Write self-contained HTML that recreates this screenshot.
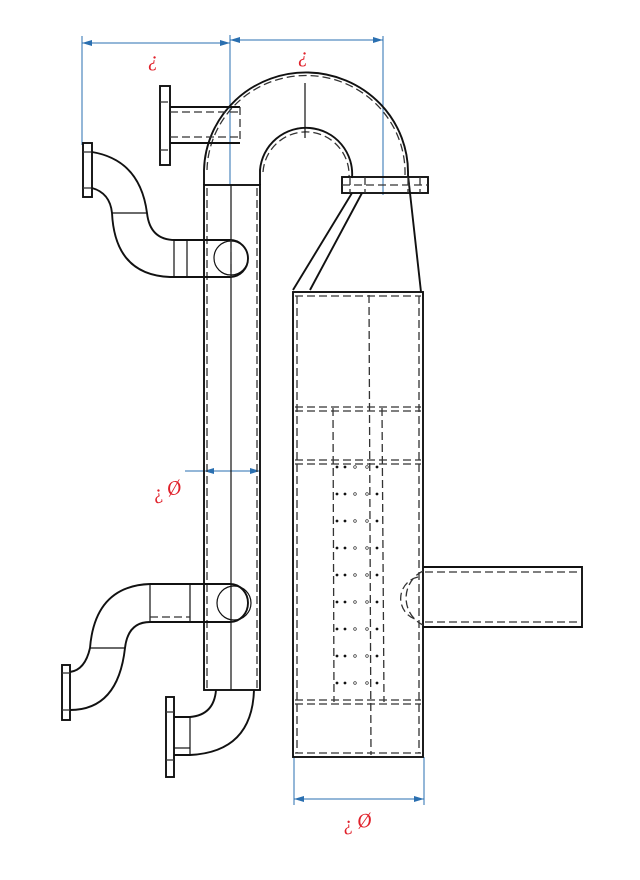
<!DOCTYPE html>
<html><head><meta charset="utf-8"><style>
html,body{margin:0;padding:0;background:#fff;}
svg{display:block;}
.s{fill:none;stroke:#111;stroke-width:1.9;}
.t{fill:none;stroke:#111;stroke-width:1.2;}
.d{fill:none;stroke:#333;stroke-width:1.3;stroke-dasharray:8 4;}
.b{fill:none;stroke:#2a6fb0;stroke-width:1;}
.r{fill:#e0202a;font-family:"Liberation Serif",serif;font-style:italic;font-size:20px;}
</style></head><body>
<svg width="640" height="880" viewBox="0 0 640 880" xmlns="http://www.w3.org/2000/svg">
<defs><marker id="a" markerWidth="10" markerHeight="6" refX="10" refY="3" orient="auto-start-reverse"><path d="M0,0 L10,3 L0,6z" fill="#2a6fb0"/></marker></defs>
<line class="b" x1="82" y1="43" x2="230" y2="43" marker-start="url(#a)" marker-end="url(#a)"/>
<line class="b" x1="230" y1="40" x2="383" y2="40" marker-start="url(#a)" marker-end="url(#a)"/>
<line class="b" x1="82" y1="36" x2="82" y2="145"/>
<line class="b" x1="230" y1="35" x2="230" y2="185"/>
<line class="b" x1="383" y1="36" x2="383" y2="195"/>
<text class="r" x="148" y="66">¿</text>
<text class="r" x="298" y="62">¿</text>
<line class="b" x1="185" y1="471" x2="260" y2="471" />
<line class="b" x1="204" y1="471" x2="260" y2="471" marker-start="url(#a)" marker-end="url(#a)"/>
<text class="r" x="152" y="497" transform="rotate(-15 165 490)">¿ Ø</text>
<line class="b" x1="294" y1="757" x2="294" y2="805"/>
<line class="b" x1="424" y1="757" x2="424" y2="805"/>
<line class="b" x1="294" y1="799" x2="424" y2="799" marker-start="url(#a)" marker-end="url(#a)"/>
<text class="r" x="342" y="828" transform="rotate(-10 360 820)">¿ Ø</text>

<rect class="s" x="204" y="185" width="56" height="505"/>
<line class="d" x1="207" y1="188" x2="207" y2="688"/>
<line class="d" x1="257" y1="188" x2="257" y2="688"/>
<line class="t" x1="231" y1="185" x2="231" y2="690"/>
<path class="s" d="M204,185 L204,170 A102,100 0 0 1 408,175 L421,292"/>
<path class="s" d="M260,185 L260,170 A46,46 0 0 1 352,178"/>
<path class="d" d="M207,170 A99,97 0 0 1 405,175"/>
<path class="d" d="M263,172 A43,43 0 0 1 349,178"/>
<line class="t" x1="305" y1="83" x2="305" y2="138"/>
<rect class="s" x="342" y="177" width="86" height="16"/>
<line class="d" x1="350" y1="177" x2="350" y2="193"/><line class="d" x1="365" y1="177" x2="365" y2="193"/>
<line class="d" x1="408" y1="177" x2="408" y2="193"/><line class="d" x1="420" y1="177" x2="420" y2="193"/>
<line class="d" x1="342" y1="185" x2="428" y2="185"/>
<line class="s" x1="352" y1="193" x2="293" y2="290"/>
<line class="s" x1="362" y1="193" x2="310" y2="290"/>
<rect class="s" x="160" y="86" width="10" height="79"/>
<line class="d" x1="160" y1="102" x2="170" y2="102"/><line class="d" x1="160" y1="150" x2="170" y2="150"/>
<line class="s" x1="170" y1="107" x2="240" y2="107"/>
<line class="s" x1="170" y1="143" x2="240" y2="143"/>
<line class="d" x1="170" y1="112" x2="240" y2="112"/><line class="d" x1="170" y1="137" x2="240" y2="137"/>
<line class="d" x1="240" y1="107" x2="240" y2="143"/>
<rect class="s" x="83" y="143" width="9" height="54"/>
<line class="d" x1="83" y1="152" x2="92" y2="152"/><line class="d" x1="83" y1="188" x2="92" y2="188"/>
<path class="s" d="M92,152 Q140,160 147,213 Q150,240 175,240 L230,240"/>
<path class="s" d="M92,188 Q110,193 112,213 Q115,275 170,277 L230,277"/>
<line class="t" x1="112" y1="213" x2="147" y2="213"/>
<line class="t" x1="174" y1="240" x2="174" y2="277"/><line class="t" x1="187" y1="240" x2="187" y2="277"/>
<path class="s" d="M230,240 A18,18.5 0 0 1 230,277"/>
<circle class="t" cx="231" cy="258" r="17"/>
<line class="d" x1="231" y1="240" x2="231" y2="277"/>
<path class="s" d="M150,584 L230,584 A18,19 0 0 1 230,622 L150,622"/>
<circle class="t" cx="234" cy="603" r="17"/>
<line class="t" x1="150" y1="584" x2="150" y2="622"/><line class="t" x1="190" y1="584" x2="190" y2="622"/>
<line class="d" x1="150" y1="617" x2="190" y2="617"/>
<path class="s" d="M150,584 Q95,586 90,648 Q85,670 70,672"/>
<path class="s" d="M150,622 Q128,622 125,648 Q118,710 70,710"/>
<line class="t" x1="90" y1="648" x2="125" y2="648"/>
<rect class="s" x="62" y="665" width="8" height="55"/>
<line class="d" x1="62" y1="673" x2="70" y2="673"/><line class="d" x1="62" y1="710" x2="70" y2="710"/>
<path class="s" d="M216,690 Q214,715 190,717 L174,717"/>
<path class="s" d="M254,690 Q252,752 190,755 L174,755"/>
<line class="t" x1="190" y1="717" x2="190" y2="755"/>
<line class="t" x1="174" y1="748" x2="190" y2="748"/>
<rect class="s" x="166" y="697" width="8" height="80"/>
<line class="d" x1="166" y1="712" x2="174" y2="712"/><line class="d" x1="166" y1="760" x2="174" y2="760"/>
<rect class="s" x="293" y="292" width="130" height="465"/>
<line class="d" x1="297" y1="296" x2="297" y2="753"/><line class="d" x1="419" y1="296" x2="419" y2="753"/>
<line class="d" x1="295" y1="296" x2="421" y2="296"/><line class="d" x1="295" y1="753" x2="421" y2="753"/>
<line class="d" x1="369" y1="295" x2="371" y2="755"/>
<line class="d" x1="295" y1="407" x2="421" y2="407"/><line class="d" x1="295" y1="411" x2="421" y2="411"/>
<line class="d" x1="295" y1="460" x2="421" y2="460"/><line class="d" x1="295" y1="464" x2="421" y2="464"/>
<line class="d" x1="295" y1="700" x2="421" y2="700"/><line class="d" x1="295" y1="704" x2="421" y2="704"/>
<line class="d" x1="333" y1="408" x2="334" y2="702"/><line class="d" x1="382" y1="408" x2="384" y2="702"/>
<g id="dots" fill="#111"></g>
<path class="s" d="M423,567 L582,567 L582,627 L423,627"/>
<line class="d" x1="425" y1="572" x2="580" y2="572"/><line class="d" x1="425" y1="622" x2="580" y2="622"/>
<path class="d" d="M423,571 A30,30 0 0 0 423,625"/>
<path class="d" d="M418,577 A22,22 0 0 0 418,620"/>
</svg>
<script>
var g=document.getElementById('dots');
for(var k=0;k<9;k++){var y=467+27*k;[337,345,355,367,377].forEach(function(x,i){var c=document.createElementNS('http://www.w3.org/2000/svg','circle');c.setAttribute('cx',x);c.setAttribute('cy',y);c.setAttribute('r',i==2||i==3?1.3:1.1);c.setAttribute('fill',i==2||i==3?'none':'#111');c.setAttribute('stroke','#111');c.setAttribute('stroke-width','0.6');g.appendChild(c);});}
</script>
</body></html>
